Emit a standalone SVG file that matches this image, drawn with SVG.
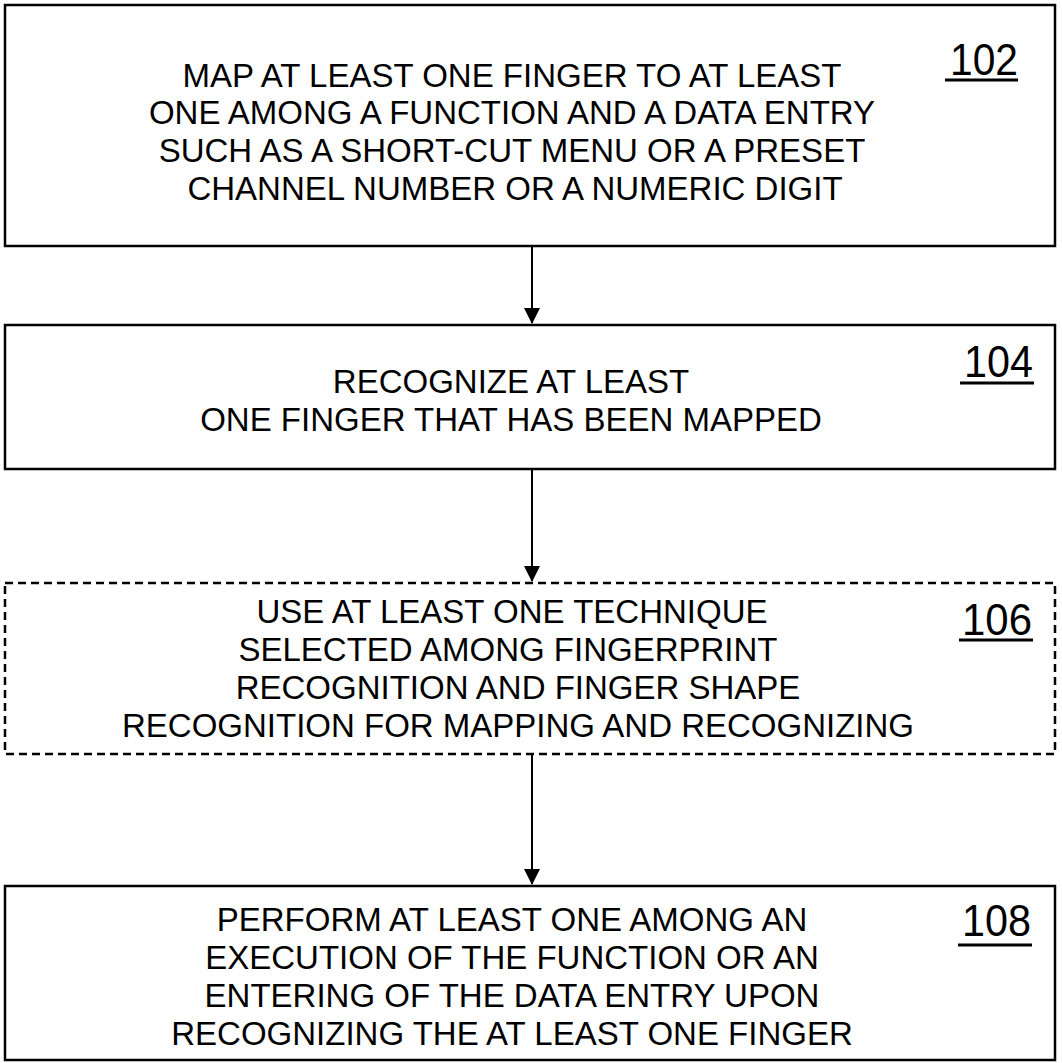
<svg xmlns="http://www.w3.org/2000/svg" width="1062" height="1063" viewBox="0 0 1062 1063">
<style>
.box{fill:#fff;stroke:#000;stroke-width:2.5}
.dash{stroke-dasharray:8 5}
.t{font-family:"Liberation Sans",Arial,sans-serif;font-size:33px;fill:#000;text-anchor:middle}
.n{font-family:"Liberation Sans",Arial,sans-serif;font-size:44px;fill:#000}
.u{stroke:#000;stroke-width:3}
.c{stroke:#000;stroke-width:2;fill:none}
</style>
<defs>
<marker id="ah" markerWidth="16" markerHeight="18" refX="15" refY="8" orient="auto" markerUnits="userSpaceOnUse" viewBox="0 0 16 16">
<path d="M0,0 L16,8 L0,16 z" fill="#000"/>
</marker>
</defs>
<rect width="1062" height="1063" fill="#fff"/>
<g id="n102">
<rect class="box" x="5" y="5" width="1050" height="241"/>
<text class="t" x="512" y="87">MAP AT LEAST ONE FINGER TO AT LEAST</text>
<text class="t" x="512" y="124">ONE AMONG A FUNCTION AND A DATA ENTRY</text>
<text class="t" x="512" y="162">SUCH AS A SHORT-CUT MENU OR A PRESET</text>
<text class="t" x="515" y="200">CHANNEL NUMBER OR A NUMERIC DIGIT</text>
<text class="n" x="950" y="75" textLength="68" lengthAdjust="spacingAndGlyphs">102</text>
<line class="u" x1="945" y1="80" x2="1018" y2="80"/>
</g>
<g id="n104">
<rect class="box" x="5" y="325" width="1050" height="144"/>
<text class="t" x="511" y="393">RECOGNIZE AT LEAST</text>
<text class="t" x="511" y="431">ONE FINGER THAT HAS BEEN MAPPED</text>
<text class="n" x="964" y="377" textLength="69" lengthAdjust="spacingAndGlyphs">104</text>
<line class="u" x1="960" y1="383" x2="1034" y2="383"/>
</g>
<g id="n106">
<rect class="box dash" x="5" y="583" width="1050" height="171"/>
<text class="t" x="512" y="623">USE AT LEAST ONE TECHNIQUE</text>
<text class="t" x="508" y="661">SELECTED AMONG FINGERPRINT</text>
<text class="t" x="518" y="699">RECOGNITION AND FINGER SHAPE</text>
<text class="t" x="518" y="737">RECOGNITION FOR MAPPING AND RECOGNIZING</text>
<text class="n" x="962" y="635" textLength="70" lengthAdjust="spacingAndGlyphs">106</text>
<line class="u" x1="959" y1="640" x2="1033" y2="640"/>
</g>
<g id="n108">
<rect class="box" x="5" y="886" width="1050" height="174"/>
<text class="t" x="512" y="931">PERFORM AT LEAST ONE AMONG AN</text>
<text class="t" x="512" y="969">EXECUTION OF THE FUNCTION OR AN</text>
<text class="t" x="512" y="1007">ENTERING OF THE DATA ENTRY UPON</text>
<text class="t" x="512" y="1045">RECOGNIZING THE AT LEAST ONE FINGER</text>
<text class="n" x="962" y="936" textLength="69" lengthAdjust="spacingAndGlyphs">108</text>
<line class="u" x1="958" y1="945" x2="1032" y2="945"/>
</g>
<g id="connectors">
<line class="c" x1="532" y1="247" x2="532" y2="323" marker-end="url(#ah)"/>
<line class="c" x1="532" y1="470" x2="532" y2="581" marker-end="url(#ah)"/>
<line class="c" x1="532" y1="755" x2="532" y2="884" marker-end="url(#ah)"/>
</g>
</svg>
